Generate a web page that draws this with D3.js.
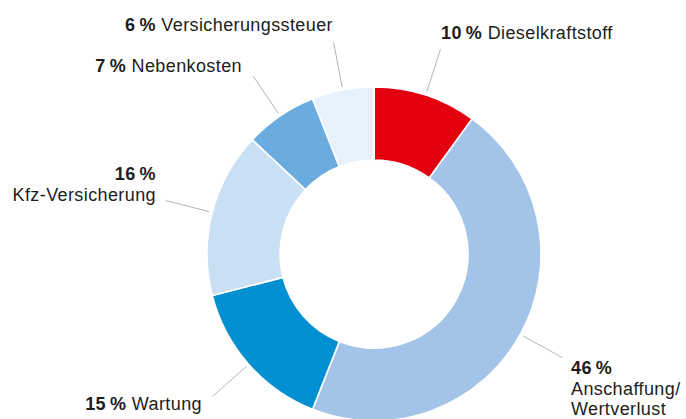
<!DOCTYPE html>
<html>
<head>
<meta charset="utf-8">
<script src="https://cdn.jsdelivr.net/npm/d3@7"></script>
<style>
  body { margin: 0; background: #fff; }
  text { font-family: "Liberation Sans", Arial, sans-serif; font-size: 18px; letter-spacing: 0.4px; fill: #1d1d1b; }
</style>
</head>
<body>
<main></main>
<script>
const categories = ["Dieselkraftstoff", "Anschaffung/Wertverlust", "Wartung", "Kfz-Versicherung", "Nebenkosten", "Versicherungssteuer"];
const values = [10, 46, 15, 16, 7, 6];
const colors = ["#e3000f", "#a3c4e8", "#008fd0", "#c9dff4", "#6aacdf", "#e5f2fc"];

// label placement: where the text sits, how it is anchored, and whether percent is on its own line
const labelLayout = [
  { x: 441, y: 39, anchor: "start", stacked: false },
  { x: 571, y: 374, anchor: "start", stacked: true },
  { x: 202, y: 410, anchor: "end", stacked: false },
  { x: 156, y: 180, anchor: "end", stacked: true },
  { x: 242, y: 72, anchor: "end", stacked: false },
  { x: 333, y: 31, anchor: "end", stacked: false }
];

const svgWidth = 686,
  svgHeight = 419,
  cx = 374,
  cy = 254,
  outerR = 167,
  innerR = 94;

const svg = d3.select("main")
  .append("svg")
  .attr("width", svgWidth)
  .attr("height", svgHeight);

const g = svg.append("g").attr("transform", `translate(${cx},${cy})`);

const pie = d3.pie().sort(null).value(d => d)(values);
const arc = d3.arc().innerRadius(innerR).outerRadius(outerR);

g.selectAll("path.slice")
  .data(pie)
  .join("path")
  .attr("class", "slice")
  .attr("d", arc)
  .attr("fill", (d, i) => colors[i])
  .attr("stroke", "#fff")
  .attr("stroke-width", 1.6);

// leader lines, radial from the ring out toward the label
const pt = (a, r) => [r * Math.sin(a), -r * Math.cos(a)];
g.selectAll("line.leader")
  .data(pie)
  .join("line")
  .attr("class", "leader")
  .each(function (d) {
    const a = (d.startAngle + d.endAngle) / 2;
    const p0 = pt(a, 170), p1 = pt(a, 215);
    d3.select(this)
      .attr("x1", p0[0]).attr("y1", p0[1])
      .attr("x2", p1[0]).attr("y2", p1[1]);
  })
  .attr("stroke", "#b4b4b4")
  .attr("stroke-width", 1);

const labels = svg.selectAll("text.label")
  .data(pie)
  .join("text")
  .attr("class", "label")
  .attr("x", (d, i) => labelLayout[i].x)
  .attr("y", (d, i) => labelLayout[i].y)
  .attr("text-anchor", (d, i) => labelLayout[i].anchor);

labels.each(function (d, i) {
  const t = d3.select(this);
  const lay = labelLayout[i];
  const pct = `${values[i]}\u2009%`;
  if (!lay.stacked) {
    t.append("tspan").attr("font-weight", "bold").text(pct);
    t.append("tspan").text(" " + categories[i]);
  } else {
    t.append("tspan").attr("font-weight", "bold").text(pct);
    const parts = categories[i].includes("/")
      ? [categories[i].split("/")[0] + "/", categories[i].split("/")[1]]
      : [categories[i]];
    parts.forEach(p => {
      t.append("tspan").attr("x", lay.x).attr("dy", 20.5).text(p);
    });
  }
});
</script>
</body>
</html>
